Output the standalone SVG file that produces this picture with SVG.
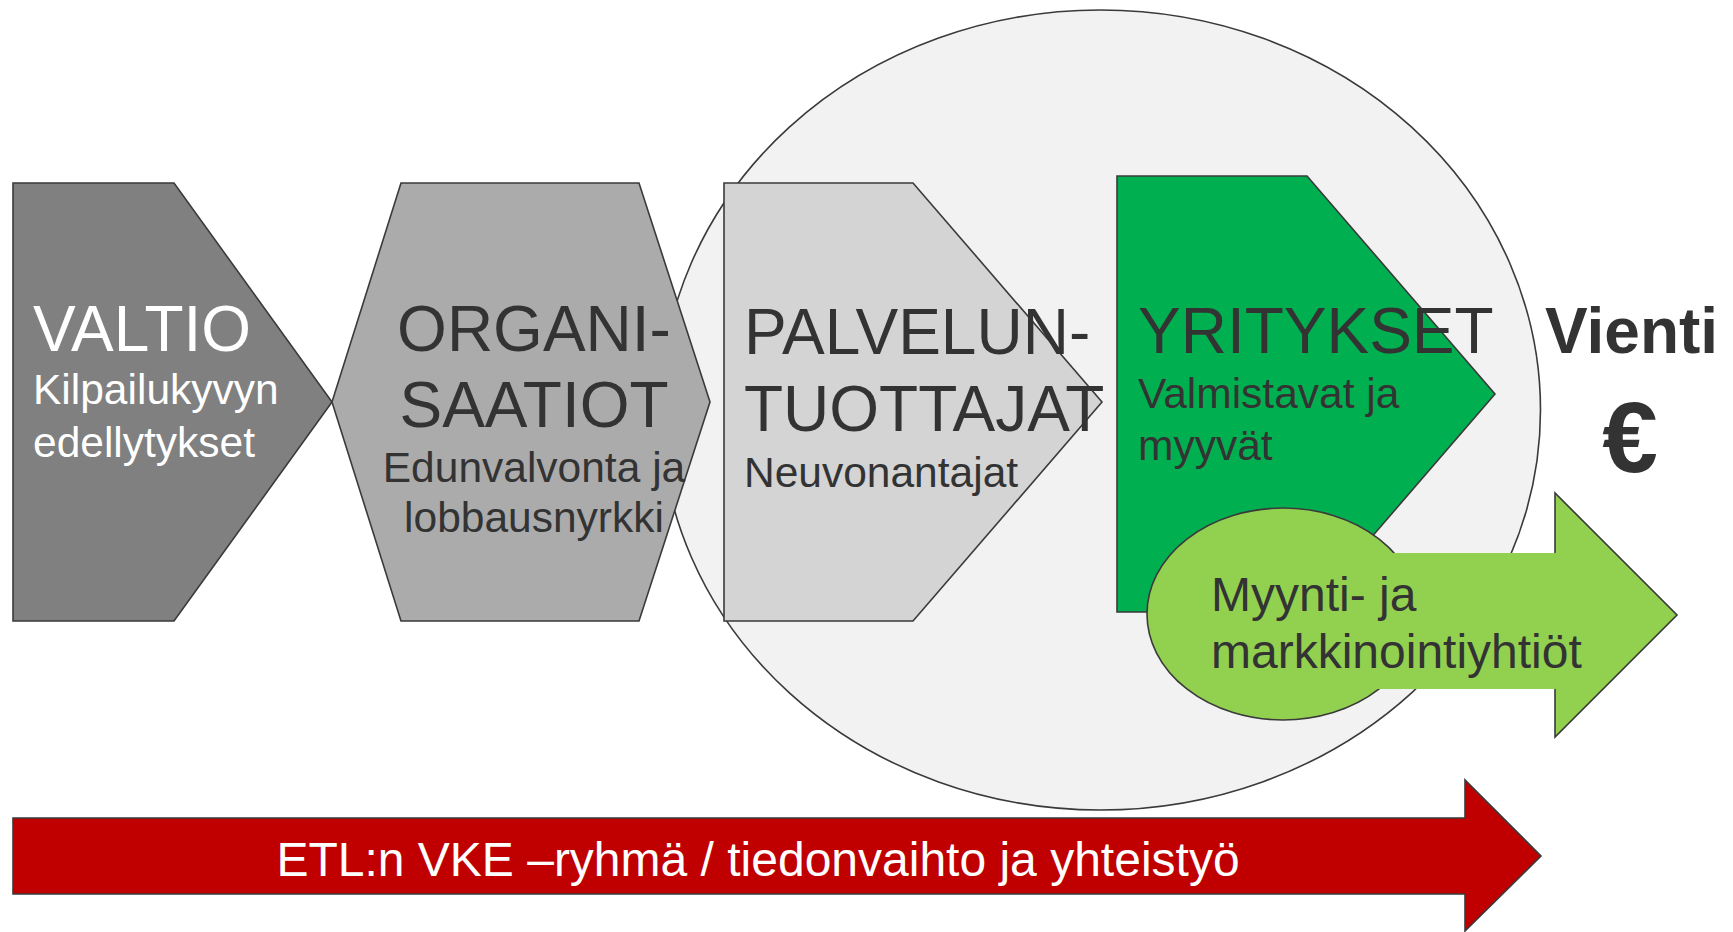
<svg xmlns="http://www.w3.org/2000/svg" width="1733" height="932" viewBox="0 0 1733 932">
<style>
.sh{stroke:#3a3a3a;stroke-width:1.6;stroke-linejoin:miter}
text{font-family:"Liberation Sans",Arial,sans-serif}
.big{font-size:64px}
.sub{font-size:42.5px}
.dk{fill:#333333}
.wh{fill:#ffffff}
</style>
<rect width="1733" height="932" fill="#ffffff"/>
<g id="circle">
<ellipse cx="1100.5" cy="410" rx="440" ry="400" fill="#f2f2f2" class="sh"/>
</g>
<g id="valtio">
<polygon points="13,183 174,183 332,402 174,621 13,621" fill="#808080" class="sh"/>
<text x="33" y="351" class="big wh">VALTIO</text>
<text x="33" y="404" class="sub wh">Kilpailukyvyn</text>
<text x="33" y="457" class="sub wh">edellytykset</text>
</g>
<g id="organisaatiot">
<polygon points="401,183 639,183 710,402 639,621 401,621 332,402" fill="#ababab" class="sh"/>
<text x="534" y="351" class="big dk" text-anchor="middle">ORGANI-</text>
<text x="534" y="427" class="big dk" text-anchor="middle">SAATIOT</text>
<text x="534" y="482" class="sub dk" text-anchor="middle">Edunvalvonta ja</text>
<text x="534" y="532" class="sub dk" text-anchor="middle">lobbausnyrkki</text>
</g>
<g id="palveluntuottajat">
<polygon points="724,183 913,183 1102,402 913,621 724,621" fill="#d4d4d4" class="sh"/>
<text x="744" y="354" class="big dk">PALVELUN-</text>
<text x="744" y="431" class="big dk">TUOTTAJAT</text>
<text x="744" y="487" class="sub dk">Neuvonantajat</text>
</g>
<g id="yritykset">
<polygon points="1117,176 1307,176 1495,394 1307,612 1117,612" fill="#00b050" class="sh"/>
<text x="1138" y="353" class="big dk">YRITYKSET</text>
<text x="1138" y="408" class="sub dk">Valmistavat ja</text>
<text x="1138" y="460" class="sub dk">myyvät</text>
</g>
<g id="vienti">
<text x="1545" y="353" font-size="64" font-weight="bold" class="dk">Vienti</text>
<text x="1630" y="472" font-size="100" font-weight="bold" class="dk" text-anchor="middle">€</text>
</g>
<g id="myynti">
<ellipse cx="1283" cy="614" rx="136" ry="106" fill="#92d050" class="sh"/>
<polygon points="1283,553 1555,553 1555,493 1677,615 1555,737 1555,689 1283,689" fill="#92d050"/>
<polyline points="1555,553 1555,493 1677,615 1555,737 1555,689" fill="none" class="sh"/>
<text x="1211" y="611" font-size="48" class="dk">Myynti- ja</text>
<text x="1211" y="668" font-size="48" class="dk">markkinointiyhtiöt</text>
</g>
<g id="etl">
<polygon points="13,818 1465,818 1465,780 1541,856 1465,931 1465,894 13,894" fill="#c00000" class="sh"/>
<text x="758" y="876" font-size="48" class="wh" text-anchor="middle">ETL:n VKE –ryhmä / tiedonvaihto ja yhteistyö</text>
</g>
<g id="connectors"></g>
</svg>
